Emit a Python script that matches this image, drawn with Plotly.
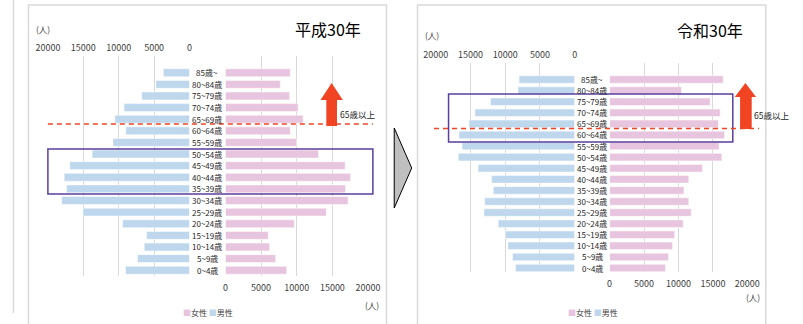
import plotly.graph_objects as go

W, H = 803, 324

# ---------------- data ----------------
ages = ["0~4歳", "5~9歳", "10~14歳", "15~19歳", "20~24歳", "25~29歳", "30~34歳",
        "35~39歳", "40~44歳", "45~49歳", "50~54歳", "55~59歳", "60~64歳",
        "65~69歳", "70~74歳", "75~79歳", "80~84歳", "85歳~"]

h30_male = [9050, 7350, 6400, 6050, 9450, 15050, 18050, 17350, 17700, 16900, 13750,
            10800, 9000, 10550, 9250, 6750, 4750, 3700]
h30_female = [8600, 7050, 6200, 6000, 9650, 14150, 17200, 16850, 17550, 16800, 13050,
              10000, 9100, 10900, 10200, 9000, 7700, 9100]

r30_male = [8500, 8950, 9600, 9950, 11000, 13050, 12950, 11700, 11950, 13900, 16750,
            16200, 16650, 15200, 14350, 12100, 8150, 8000]
r30_female = [8100, 8550, 9150, 9450, 10700, 11850, 11500, 10800, 11500, 13500, 16300,
              15900, 16700, 15800, 16050, 14600, 10450, 16500]

ticks = [0, 5000, 10000, 15000, 20000]
tick_labels = ["0", "5000", "10000", "15000", "20000"]
titles = ["平成30年", "令和30年"]
unit = "(人)"
legend_f, legend_m = "女性", "男性"
over65 = "65歳以上"

MALE_C = "#bed7ec"
FEMALE_C = "#e8c5de"
GRID_C = "#d9d9d9"
TXT_C = "#404040"
NUM_FONT = "Liberation Sans Narrow, Arial Narrow, Noto Sans CJK JP, sans-serif"
CJK_FONT = "Noto Sans CJK JP, sans-serif"


def px(x):
    return x / W


def py(y):
    return 1 - y / H


fig = go.Figure()

bar_common = dict(orientation="h", marker_line_color="white", marker_line_width=0.5,
                  hoverinfo="skip", showlegend=False)
fig.add_trace(go.Bar(y=ages, x=h30_male, marker_color=MALE_C, xaxis="x", yaxis="y", **bar_common))
fig.add_trace(go.Bar(y=ages, x=h30_female, marker_color=FEMALE_C, xaxis="x2", yaxis="y", **bar_common))
fig.add_trace(go.Bar(y=ages, x=r30_male, marker_color=MALE_C, xaxis="x3", yaxis="y2", **bar_common))
fig.add_trace(go.Bar(y=ages, x=r30_female, marker_color=FEMALE_C, xaxis="x4", yaxis="y2", **bar_common))

xcommon = dict(tickvals=ticks, ticktext=tick_labels, tickmode="array", showgrid=True,
               gridcolor=GRID_C, gridwidth=1, zeroline=False,
               showline=False, ticks="", tickfont=dict(family=NUM_FONT, size=9, color=TXT_C),
               fixedrange=True)

fig.update_layout(
    width=W, height=H, margin=dict(l=0, r=0, t=0, b=0),
    paper_bgcolor="white", plot_bgcolor="rgba(0,0,0,0)",
    bargap=0.32, showlegend=False,
    xaxis=dict(domain=[px(37), px(183)], range=[20000, 0], side="top", anchor="y",
               ticklabelstandoff=2, **xcommon),
    xaxis2=dict(domain=[px(220), px(367)], range=[0, 20000], side="bottom", anchor="y",
                ticklabelstandoff=5, **xcommon),
    xaxis3=dict(domain=[px(436.7), px(580)], range=[20000, 0], side="top", anchor="y2",
                ticklabelstandoff=2, **xcommon),
    xaxis4=dict(domain=[px(616), px(758)], range=[0, 20000], side="bottom", anchor="y2",
                ticklabelstandoff=5, **xcommon),
    yaxis=dict(domain=[py(276), py(56)], range=[-0.5, 18.44], type="category",
               categoryorder="array", categoryarray=ages, anchor="x",
               showticklabels=False, showgrid=False, zeroline=False, fixedrange=True),
    yaxis2=dict(domain=[py(272), py(63)], range=[-0.36, 18.49], type="category",
                categoryorder="array", categoryarray=ages, anchor="x3",
                showticklabels=False, showgrid=False, zeroline=False, fixedrange=True),
)

ann = []
# age labels
for a in ages:
    ann.append(dict(x=px(201.5), y=a, xref="paper", yref="y", text=a, showarrow=False,
                    xanchor="center", yanchor="middle",
                    font=dict(family=NUM_FONT, size=8, color="#262626")))
    ann.append(dict(x=px(598), y=a, xref="paper", yref="y2", text=a, showarrow=False,
                    xanchor="center", yanchor="middle",
                    font=dict(family=NUM_FONT, size=8, color="#262626")))

# titles
ann.append(dict(x=px(325.5), y=py(29), xref="paper", yref="paper", text=titles[0],
                showarrow=False, xanchor="center", yanchor="middle",
                font=dict(family=CJK_FONT, size=16, color="#000000")))
ann.append(dict(x=px(719.5), y=py(30), xref="paper", yref="paper", text=titles[1],
                showarrow=False, xanchor="center", yanchor="middle",
                font=dict(family=CJK_FONT, size=16, color="#000000")))

# unit labels
for (ux, uy) in [(32, 29), (371.5, 305), (433, 35), (764, 297)]:
    ann.append(dict(x=px(ux), y=py(uy), xref="paper", yref="paper", text=unit,
                    showarrow=False, xanchor="center", yanchor="middle",
                    font=dict(family=NUM_FONT, size=8.5, color=TXT_C)))

# legends
leg_text = (f"<span style='color:{FEMALE_C}'>■</span>{legend_f} "
            f"<span style='color:{MALE_C}'>■</span>{legend_m}")
for lx in [202.5, 598.5]:
    ann.append(dict(x=px(lx), y=py(312), xref="paper", yref="paper", text=leg_text,
                    showarrow=False, xanchor="center", yanchor="middle",
                    font=dict(family=CJK_FONT, size=8, color=TXT_C)))

# 65+ labels
ann.append(dict(x=px(336), y=py(114), xref="paper", yref="paper", text=over65,
                showarrow=False, xanchor="left", yanchor="middle",
                font=dict(family=CJK_FONT, size=8.5, color="#262626")))
ann.append(dict(x=px(763), y=py(115), xref="paper", yref="paper", text=over65,
                showarrow=False, xanchor="left", yanchor="middle",
                font=dict(family=CJK_FONT, size=8.5, color="#262626")))

fig.update_layout(annotations=ann)


def rect(x0, y0, x1, y1, color, width=1, fill=None):
    return dict(type="rect", xref="paper", yref="paper", x0=px(x0), x1=px(x1),
                y0=py(y1), y1=py(y0), line=dict(color=color, width=width),
                fillcolor=fill if fill else "rgba(0,0,0,0)", layer="above")


def poly(points, color, line_color=None, lw=0):
    d = "M " + " L ".join(f"{px(x):.5f},{py(y):.5f}" for x, y in points) + " Z"
    return dict(type="path", xref="paper", yref="paper", path=d, fillcolor=color,
                line=dict(color=line_color if line_color else color, width=lw), layer="above")


ARROW_C = "#f04423"
shapes = [
    # panel frames
    rect(17, 5, 386, 340, GRID_C, 1.5),
    rect(418, 5, 777, 340, GRID_C, 1.5),
    dict(type="line", xref="paper", yref="paper", x0=px(1.5), x1=px(1.5), y0=py(313), y1=py(0),
         line=dict(color=GRID_C, width=1.5)),
    # purple boxes
    rect(37, 149, 372, 194, "#5b3f9e", 1.5),
    rect(450, 94, 743, 142, "#5b3f9e", 1.5),
    # dashed 65 lines
    dict(type="line", xref="paper", yref="paper", x0=px(37), x1=px(372), y0=py(124), y1=py(124),
         line=dict(color=ARROW_C, width=1.5, dash="5px,4px"), layer="above"),
    dict(type="line", xref="paper", yref="paper", x0=px(435), x1=px(770), y0=py(128.5), y1=py(128.5),
         line=dict(color=ARROW_C, width=1.5, dash="5px,4px"), layer="above"),
    # red arrows
    poly([(329.5, 83), (341, 100), (335, 100), (335, 126), (324, 126), (324, 100), (318, 100)], ARROW_C),
    poly([(756, 83), (767, 97), (762.5, 97), (762.5, 129), (750.5, 129), (750.5, 97), (745, 97)], ARROW_C),
    # grey chevron between panels
    poly([(394, 128), (412, 168), (394, 208)], "#bfbfbf", "#000000", 1),
]
fig.update_layout(shapes=shapes)

fig.write_html("out.html")
